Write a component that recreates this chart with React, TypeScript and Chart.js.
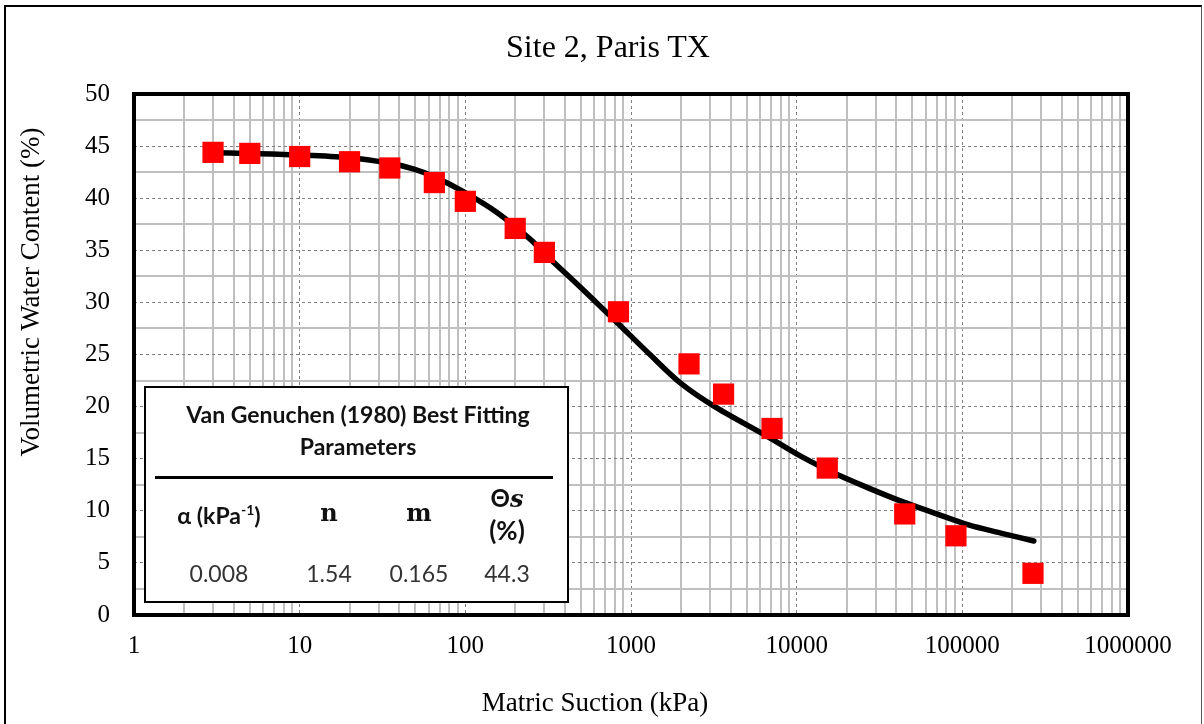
import React, { useEffect, useRef } from "react";
import { Chart, registerables } from "chart.js";

Chart.register(...registerables);

// Measured soil-water characteristic points (matric suction kPa, volumetric water content %)
const measuredSuction = [3, 5, 10, 20, 35, 65, 100, 200, 300, 840, 2240, 3620, 7100, 15300, 44900, 91500, 267000];
const measuredWater = [44.4, 44.3, 44.0, 43.5, 42.9, 41.5, 39.7, 37.1, 34.8, 29.1, 24.1, 21.2, 17.9, 14.1, 9.7, 7.6, 4.0];

// Fitted Van Genuchen curve
const fitSuction = [3, 4.8, 9.6, 19.4, 35, 49, 65, 98, 156, 249, 300, 523, 832, 1320, 2010, 3200, 6720, 10700, 16900, 27000, 43000, 68400, 109000, 173000, 270000];
const fitWater = [44.35, 44.3, 44.15, 43.9, 43.35, 42.8, 42.06, 40.6, 38.6, 36.0, 34.7, 31.1, 28.0, 24.9, 22.2, 20.0, 17.1, 15.2, 13.6, 12.2, 10.9, 9.76, 8.64, 7.84, 7.1];

// Axis ticks
const xMajorTicks = [1, 10, 100, 1000, 10000, 100000, 1000000];
const xMinorMultipliers = [2, 3, 4, 5, 6, 7, 8, 9];
const yMajorTicks = [0, 5, 10, 15, 20, 25, 30, 35, 40, 45, 50];
const yMinorTicks = [2.5, 7.5, 12.5, 17.5, 22.5, 27.5, 32.5, 37.5, 42.5, 47.5];

// Parameter table
const paramValues = ["0.008", "1.54", "0.165", "44.3"];

const chartTitle = "Site 2, Paris TX";
const xTitle = "Matric Suction (kPa)";
const yTitle = "Volumetric Water Content (%)";

const SERIF = "'Liberation Serif', 'Times New Roman', serif";
const SANS = "Lato, 'Open Sans', sans-serif";

const xMinorTicks: number[] = [];
xMajorTicks.slice(0, -1).forEach((d) => xMinorMultipliers.forEach((m) => xMinorTicks.push(d * m)));

const plotFrame = {
  id: "plotFrame",
  afterDraw(chart: any) {
    const { ctx, chartArea: a } = chart;
    ctx.save();
    ctx.lineWidth = 4;
    ctx.strokeStyle = "#000";
    ctx.strokeRect(a.left, a.top, a.right - a.left, a.bottom - a.top);
    ctx.restore();
  },
};

function T(props: { x: number; y: number; style?: any; children: any; rotate?: boolean }) {
  const { x, y, style, children, rotate } = props;
  return (
    <div
      style={{
        position: "absolute",
        left: x,
        top: y,
        transform: `translate(-50%, -50%)${rotate ? " rotate(-90deg)" : ""}`,
        whiteSpace: "nowrap",
        lineHeight: 1,
        ...style,
      }}
    >
      {children}
    </div>
  );
}

export default function App() {
  const canvasRef = useRef<HTMLCanvasElement | null>(null);

  useEffect(() => {
    const canvas = canvasRef.current;
    if (!canvas) return;
    const tickFont = { family: SERIF, size: 25 };
    const chart = new Chart(canvas, {
      type: "scatter",
      data: {
        datasets: [
          {
            label: "Measured",
            data: measuredSuction.map((x, i) => ({ x, y: measuredWater[i] })),
            pointStyle: "rect",
            pointRadius: 15,
            pointHoverRadius: 15,
            backgroundColor: "#ff0000",
            borderColor: "#ff0000",
            borderWidth: 0,
            showLine: false,
          },
          {
            label: "Van Genuchen fit",
            data: fitSuction.map((x, i) => ({ x, y: fitWater[i] })),
            showLine: true,
            borderColor: "#000",
            borderWidth: 5.5,
            pointRadius: 0,
            pointHoverRadius: 0,
            tension: 0.3,
            borderCapStyle: "round",
            borderJoinStyle: "round",
            fill: false,
          } as any,
        ],
      },
      options: {
        animation: false,
        responsive: false,
        devicePixelRatio: 1,
        layout: { padding: { left: 0, right: 76, top: 94, bottom: 0 } },
        plugins: {
          legend: { display: false },
          tooltip: { enabled: false },
          title: { display: false },
        },
        scales: {
          x: {
            type: "logarithmic",
            position: "bottom",
            min: 1,
            max: 1000000,
            afterBuildTicks: (s: any) => {
              s.ticks = xMajorTicks.map((v) => ({ value: v }));
            },
            afterFit: (s: any) => {
              s.height = 109;
            },
            grid: { color: "#7f7f7f", lineWidth: 1, drawTicks: false },
            border: { display: false, dash: [3, 3] },
            ticks: {
              callback: (v: any) => String(v),
              font: tickFont,
              color: "#000",
              padding: 16,
              autoSkip: false,
              maxRotation: 0,
            },
          },
          xMinor: {
            axis: "x",
            type: "logarithmic",
            position: "bottom",
            min: 1,
            max: 1000000,
            afterBuildTicks: (s: any) => {
              s.ticks = xMinorTicks.map((v) => ({ value: v }));
            },
            afterFit: (s: any) => {
              s.height = 0;
            },
            grid: { color: "#bfbfbf", lineWidth: 2, drawTicks: false },
            border: { display: false },
            ticks: { display: false },
          },
          y: {
            type: "linear",
            position: "left",
            min: 0,
            max: 50,
            afterBuildTicks: (s: any) => {
              s.ticks = yMajorTicks.map((v) => ({ value: v }));
            },
            afterFit: (s: any) => {
              s.width = 134;
            },
            grid: { color: "#7f7f7f", lineWidth: 1, drawTicks: false },
            border: { display: false, dash: [3, 3] },
            ticks: { font: tickFont, color: "#000", padding: 24 },
          },
          yMinor: {
            axis: "y",
            type: "linear",
            position: "left",
            min: 0,
            max: 50,
            afterBuildTicks: (s: any) => {
              s.ticks = yMinorTicks.map((v) => ({ value: v }));
            },
            afterFit: (s: any) => {
              s.width = 0;
            },
            grid: { color: "#bfbfbf", lineWidth: 2, drawTicks: false },
            border: { display: false },
            ticks: { display: false },
          },
        },
      } as any,
      plugins: [plotFrame],
    });
    return () => chart.destroy();
  }, []);

  const boldSans = { fontFamily: SANS, fontWeight: 700, color: "#111" };
  const valStyle = { fontFamily: SANS, fontWeight: 400, fontSize: 23, color: "#333" };
  const serifBold = { fontFamily: "'DejaVu Serif', serif", fontWeight: 700, fontSize: 24, color: "#111" };
  const colX = [219, 329, 419, 507];

  return (
    <div
      style={{
        position: "fixed",
        left: 0,
        top: 0,
        width: 1204,
        height: 724,
        background: "#fff",
        overflow: "hidden",
      }}
    >
      <canvas ref={canvasRef} width={1204} height={724} style={{ display: "block", position: "absolute", left: 0, top: 0 }} />
      {/* outer frame */}
      <div
        style={{
          position: "absolute",
          left: 4,
          top: 5,
          width: 1198,
          height: 800,
          boxSizing: "border-box",
          borderTop: "2px solid #000",
          borderLeft: "2px solid #000",
          borderRight: "1px solid #555",
          pointerEvents: "none",
        }}
      />
      <T x={608} y={46} style={{ fontFamily: SERIF, fontSize: 32, color: "#000" }}>
        {chartTitle}
      </T>
      <T x={595} y={702} style={{ fontFamily: SERIF, fontSize: 27, color: "#000" }}>
        {xTitle}
      </T>
      <T x={30} y={292} rotate style={{ fontFamily: SERIF, fontSize: 27, color: "#000" }}>
        {yTitle}
      </T>

      {/* parameter table */}
      <div
        style={{
          position: "absolute",
          left: 144,
          top: 386,
          width: 425,
          height: 217,
          boxSizing: "border-box",
          border: "2px solid #000",
          background: "#fff",
        }}
      />
      <T x={358} y={414} style={{ ...boldSans, fontSize: 23 }}>
        Van Genuchen (1980) Best Fitting
      </T>
      <T x={358} y={446} style={{ ...boldSans, fontSize: 23 }}>
        Parameters
      </T>
      <div style={{ position: "absolute", left: 155, top: 476, width: 398, height: 3, background: "#000" }} />
      <T x={colX[0]} y={515} style={{ ...boldSans, fontSize: 23 }}>
        α (kPa<sup style={{ fontSize: 14, verticalAlign: "super", lineHeight: 0 }}>-1</sup>)
      </T>
      <T x={colX[1]} y={513} style={serifBold}>
        n
      </T>
      <T x={colX[2]} y={513} style={serifBold}>
        m
      </T>
      <T x={colX[3]} y={498} style={{ ...boldSans, fontSize: 24 }}>
        Θ<span style={{ fontFamily: "'DejaVu Serif', serif", fontStyle: "italic", fontWeight: 700 }}>s</span>
      </T>
      <T x={colX[3]} y={530} style={{ ...boldSans, fontSize: 26 }}>
        (%)
      </T>
      {paramValues.map((v, i) => (
        <T key={i} x={colX[i]} y={573} style={valStyle}>
          {v}
        </T>
      ))}
    </div>
  );
}
